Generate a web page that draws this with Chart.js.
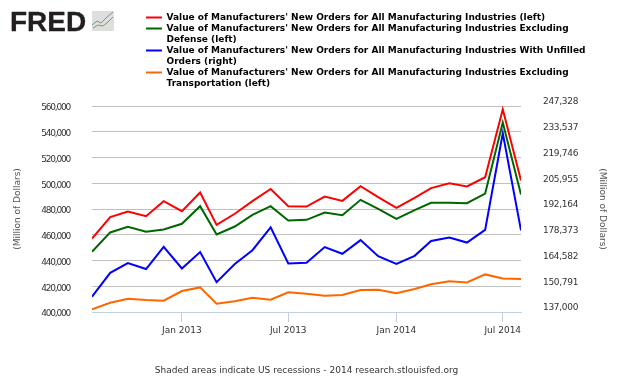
<!DOCTYPE html>
<html>
<head>
<meta charset="utf-8">
<style>
html, body { margin: 0; padding: 0; background: #fff; }
#wrap { width: 630px; height: 378px; }
</style>
<script src="https://cdn.jsdelivr.net/npm/chart.js@4/dist/chart.umd.js"></script>
</head>
<body>
<div id="wrap"><canvas id="chart" width="630" height="378"></canvas></div>
<script>
const months = ['2012-08', '2012-09', '2012-10', '2012-11', '2012-12', '2013-01', '2013-02', '2013-03', '2013-04', '2013-05', '2013-06', '2013-07', '2013-08',
    '2013-09', '2013-10', '2013-11', '2013-12', '2014-01', '2014-02', '2014-03', '2014-04', '2014-05', '2014-06', '2014-07', '2014-08']
const allOrders = [457000, 473700, 478100, 474400, 486100, 478300, 492800, 467700, 476300, 486100, 495600, 482200, 481900,
    489700, 486300, 497700, 489200, 480900, 488700, 496200, 500000, 497500, 504700, 557400, 502100]
const exDefense = [446800, 461800, 466200, 462300, 464100, 468500, 482200, 460200, 466400, 475500, 482200, 471100, 471600,
    477300, 475200, 487100, 480100, 472400, 479100, 484800, 484800, 484500, 492000, 547100, 491300]
const unfilled = [145200, 158000, 163200, 160000, 171900, 160300, 169100, 153000, 162700, 170100, 182300, 163000, 163400,
    171800, 168200, 175500, 166900, 162700, 167100, 175000, 176900, 174200, 181000, 232700, 180700]
const exTransport = [402000, 407200, 410300, 409300, 408800, 416300, 419100, 406500, 408300, 411100, 409600, 415300, 414200,
    412700, 413200, 417100, 417300, 414500, 417800, 421500, 423800, 423000, 429200, 426100, 425600]

const leftTicks = [400000, 420000, 440000, 460000, 480000, 500000, 520000, 540000, 560000]
const rightTicks = [137000, 150791, 164582, 178373, 192164, 205955, 219746, 233537, 247328]
const xTicks = ['2013-01', '2013-07', '2014-01', '2014-07']
const xTickNames = ['Jan 2013', 'Jul 2013', 'Jan 2014', 'Jul 2014']

const legendNames = [
    ["Value of Manufacturers' New Orders for All Manufacturing Industries (left)"],
    ["Value of Manufacturers' New Orders for All Manufacturing Industries Excluding", 'Defense (left)'],
    ["Value of Manufacturers' New Orders for All Manufacturing Industries With Unfilled", 'Orders (right)'],
    ["Value of Manufacturers' New Orders for All Manufacturing Industries Excluding", 'Transportation (left)']
]
const colors = ['#ff0000', '#006600', '#0000ff', '#ff6600']

const FONT = '"DejaVu Sans", Verdana, sans-serif'

// months as numbers so the x axis keeps real calendar spacing
const toTime = (m) => Date.UTC(+m.slice(0, 4), +m.slice(5) - 1, 1)
const pairs = (values) => values.map((v, i) => ({ x: toTime(months[i]), y: v }))

const placeLegend = {
    id: 'placeLegend',
    afterLayout(chart) {
        const l = chart.legend
        l.left = 146
        l.right = 630
        l.top = 13
        l.bottom = 100
    }
}

// the reference squeezes the tick digits, canvas letterSpacing gets close
const squeezeTicks = {
    id: 'squeezeTicks',
    beforeDraw(chart) {
        const tighten = (scale, spacing) => {
            if (scale.squeezed) return
            scale.squeezed = true
            const drawLabels = scale.drawLabels
            scale.drawLabels = function (area) {
                chart.ctx.save()
                chart.ctx.letterSpacing = spacing
                drawLabels.call(this, area)
                chart.ctx.restore()
            }
        }
        tighten(chart.scales.yLeft, '-1.2px')
        tighten(chart.scales.yRight, '-0.3px')
    }
}

// FRED logo top left
const logo = {
    id: 'logo',
    afterDraw(chart) {
        const ctx = chart.ctx
        ctx.save()
        ctx.fillStyle = '#231f20'
        ctx.strokeStyle = '#231f20'
        ctx.lineWidth = 0.3
        ctx.font = 'bold 28px "Liberation Sans", Arial, sans-serif'
        ctx.textBaseline = 'alphabetic'
        ctx.fillText('FRED', 10, 30.5)
        ctx.strokeText('FRED', 10, 30.5)
        ctx.fillStyle = '#dedede'
        ctx.fillRect(92, 11, 22, 20)
        ctx.lineWidth = 1
        ctx.strokeStyle = '#6f93b0'
        ctx.beginPath()
        ctx.moveTo(92, 25); ctx.lineTo(97, 21); ctx.lineTo(101, 23); ctx.lineTo(107, 17); ctx.lineTo(113, 12)
        ctx.stroke()
        ctx.strokeStyle = '#7f9f50'
        ctx.beginPath()
        ctx.moveTo(93, 28); ctx.lineTo(98, 25); ctx.lineTo(103, 26); ctx.lineTo(108, 22); ctx.lineTo(113, 17)
        ctx.stroke()
        ctx.restore()
    }
}

const datasets = [allOrders, exDefense, unfilled, exTransport].map((values, i) => ({
    label: legendNames[i].join(' '),
    data: pairs(values),
    yAxisID: i === 2 ? 'yRight' : 'yLeft',
    borderColor: colors[i],
    backgroundColor: colors[i],
    borderWidth: 2,
    pointRadius: 0,
    tension: 0,
    borderJoinStyle: 'miter'
}))

new Chart(document.getElementById('chart'), {
    type: 'line',
    data: { datasets },
    options: {
        responsive: false,
        animation: false,
        parsing: false,
        layout: { autoPadding: false, padding: { top: 106, left: 0, right: 0, bottom: 0 } },
        plugins: {
            tooltip: { enabled: false },
            legend: {
                position: 'chartArea',
                align: 'start',
                labels: {
                    boxWidth: 16,
                    boxHeight: 2,
                    padding: 0,
                    color: '#000',
                    font: { family: FONT, size: 9, weight: 'bold', lineHeight: '11px' },
                    generateLabels: () => legendNames.map((text, i) => ({
                        text,
                        fillStyle: colors[i],
                        strokeStyle: colors[i],
                        lineWidth: 0,
                        datasetIndex: i
                    }))
                }
            }
        },
        scales: {
            x: {
                type: 'linear',
                min: toTime(months[0]),
                max: toTime(months[months.length - 1]),
                afterBuildTicks(axis) { axis.ticks = xTicks.map((m) => ({ value: toTime(m) })) },
                afterFit(axis) { axis.height = 66 },
                border: { color: '#c0d0e0' },
                grid: { drawOnChartArea: false, color: '#c0d0e0', tickLength: 10 },
                ticks: {
                    autoSkip: false,
                    maxRotation: 0,
                    padding: 3,
                    color: '#333',
                    font: { family: FONT, size: 9 },
                    callback: (v) => xTickNames[xTicks.findIndex((m) => toTime(m) === v)]
                },
                title: {
                    display: true,
                    text: 'Shaded areas indicate US recessions - 2014 research.stlouisfed.org',
                    color: '#333',
                    font: { family: FONT, size: 9 },
                    padding: { top: 27, bottom: 2 }
                }
            },
            yLeft: {
                position: 'left',
                min: 400000,
                max: 560000,
                afterBuildTicks(axis) { axis.ticks = leftTicks.map((value) => ({ value })) },
                afterFit(axis) { axis.width = 92 },
                border: { display: false },
                grid: { color: '#c0c0c0', drawTicks: false },
                ticks: {
                    padding: 22,
                    labelOffset: 2,
                    color: '#333',
                    font: { family: FONT, size: 9 },
                    callback: (v) => v.toLocaleString('en-US')
                },
                title: {
                    display: true,
                    text: '(Million of Dollars)',
                    color: '#555',
                    font: { family: FONT, size: 9 },
                    padding: { top: 12, bottom: 0 }
                }
            },
            yRight: {
                position: 'right',
                min: 137000,
                max: 247328,
                afterBuildTicks(axis) { axis.ticks = rightTicks.map((value) => ({ value })) },
                afterFit(axis) { axis.width = 109 },
                border: { display: false },
                grid: { drawOnChartArea: false, drawTicks: false },
                ticks: {
                    padding: 22,
                    labelOffset: -4,
                    color: '#333',
                    font: { family: FONT, size: 9 },
                    callback: (v) => v.toLocaleString('en-US')
                },
                title: {
                    display: true,
                    text: '(Million of Dollars)',
                    color: '#555',
                    font: { family: FONT, size: 9 },
                    padding: { top: 22, bottom: 0 }
                }
            }
        }
    },
    plugins: [placeLegend, squeezeTicks, logo]
})
</script>
</body>
</html>
